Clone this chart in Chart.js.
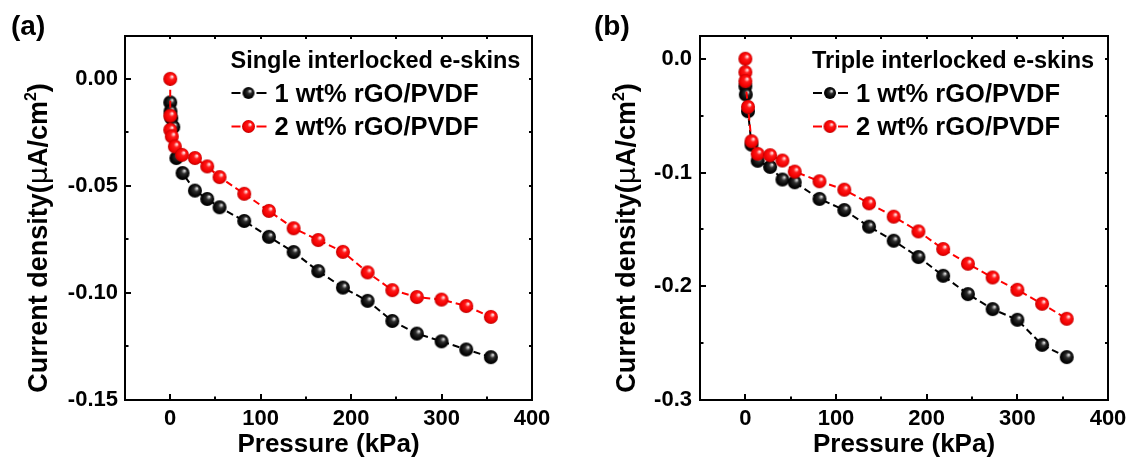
<!DOCTYPE html>
<html>
<head>
<meta charset="utf-8">
<script src="https://cdn.jsdelivr.net/npm/chart.js@4.4.1/dist/chart.umd.min.js"></script>
<style>
  html, body { margin: 0; padding: 0; background: #fff; }
  #wrap { position: relative; width: 1134px; height: 464px; overflow: hidden; }
  #wrap canvas { position: absolute; top: 0; }
  .tag { position: absolute; font: bold 28px "Liberation Sans", Arial, sans-serif; color: #000; line-height: 32px; }
</style>
</head>
<body>
<div id="wrap">
  <canvas id="chartA" width="567" height="464" style="left:0"></canvas>
  <canvas id="chartB" width="567" height="464" style="left:567px"></canvas>
  <div class="tag" style="left:11px;top:10px">(a)</div>
  <div class="tag" style="left:594px;top:10px">(b)</div>
</div>
<script>
// Panel (a): single interlocked e-skins
const pressureA1 = [0, 0.3, 1.2, 3.4, 6.8, 13.6, 27.3, 40.9, 54.5, 81.8, 109.1, 136.4, 163.6, 190.9, 218.2, 245.5, 272.7, 300.0, 327.3, 354.5];
const currentA1  = [-0.0110, -0.0152, -0.0183, -0.0225, -0.0370, -0.0440, -0.0522, -0.0561, -0.0600, -0.0664, -0.0738, -0.0809, -0.0898, -0.0975, -0.1037, -0.1131, -0.1190, -0.1226, -0.1264, -0.1300];
const pressureA2 = [0, 0, 0, 1.7, 5.1, 12.9, 27.3, 40.9, 54.5, 81.8, 109.1, 136.4, 163.6, 190.9, 218.2, 245.5, 272.7, 300.0, 327.3, 354.5];
const currentA2  = [0.0000, -0.0172, -0.0238, -0.0269, -0.0316, -0.0355, -0.0370, -0.0409, -0.0459, -0.0537, -0.0617, -0.0698, -0.0753, -0.0808, -0.0904, -0.0987, -0.1019, -0.1031, -0.1061, -0.1112];

// Panel (b): triple interlocked e-skins
const pressureB1 = [0, 0.5, 2.9, 6.8, 13.6, 27.3, 40.9, 54.5, 81.8, 109.1, 136.4, 163.6, 190.9, 218.2, 245.5, 272.7, 300.0, 327.3, 354.5];
const currentB1  = [-0.0241, -0.0314, -0.0461, -0.0755, -0.0897, -0.0951, -0.1062, -0.1086, -0.1232, -0.1330, -0.1476, -0.1600, -0.1743, -0.1908, -0.2069, -0.2201, -0.2295, -0.2515, -0.2623];
const pressureB2 = [0, 0, 0, 2.9, 6.8, 13.6, 27.3, 40.9, 54.5, 81.8, 109.1, 136.4, 163.6, 190.9, 218.2, 245.5, 272.7, 300.0, 327.3, 354.5];
const currentB2  = [0.0000, -0.0118, -0.0197, -0.0423, -0.0725, -0.0836, -0.0848, -0.0895, -0.0992, -0.1077, -0.1151, -0.1271, -0.1388, -0.1518, -0.1673, -0.1802, -0.1923, -0.2031, -0.2154, -0.2286];

// Axis ticks
const xTicks  = [0, 100, 200, 300, 400];
const xMinor  = [50, 150, 250, 350];
const yTicksA = [-0.15, -0.10, -0.05, 0];
const yMinorA = [-0.125, -0.075, -0.025];
const yTicksB = [-0.3, -0.2, -0.1, 0];
const yMinorB = [-0.25, -0.15, -0.05];

const seriesLabels = ['1 wt% rGO/PVDF', '2 wt% rGO/PVDF'];
const FONT = '"Liberation Sans", Arial, Helvetica, sans-serif';

// Shaded sphere used as the point marker
function sphere(kind, r) {
  const s = Math.ceil(r * 2) + 2;
  const c = document.createElement('canvas');
  c.width = c.height = s;
  const g = c.getContext('2d');
  const m = s / 2;
  const grad = g.createRadialGradient(m + 0.32 * r, m - 0.36 * r, 0, m, m, r);
  if (kind === 'red') {
    grad.addColorStop(0, '#ffffff');
    grad.addColorStop(0.14, '#ffb8b8');
    grad.addColorStop(0.36, '#ff1a1a');
    grad.addColorStop(0.8, '#f20000');
    grad.addColorStop(1, '#b80000');
  } else {
    grad.addColorStop(0, '#ffffff');
    grad.addColorStop(0.12, '#bdbdbd');
    grad.addColorStop(0.36, '#2e2e2e');
    grad.addColorStop(0.75, '#080808');
    grad.addColorStop(1, '#000000');
  }
  g.beginPath();
  g.arc(m, m, r, 0, Math.PI * 2);
  g.fillStyle = grad;
  g.fill();
  return c;
}
const redBall = sphere('red', 7), blackBall = sphere('black', 7);
const redKey = sphere('red', 6.5), blackKey = sphere('black', 6);

const toXY = (xs, ys) => xs.map((x, i) => ({ x, y: ys[i] }));

// Box frame with inward major/minor ticks on all sides
const frame = {
  id: 'frame',
  afterDraw(chart, args, o) {
    const { ctx, chartArea: a, scales: { x, y } } = chart;
    ctx.save();
    ctx.strokeStyle = '#000';
    ctx.lineWidth = 2;
    ctx.strokeRect(a.left, a.top, a.right - a.left, a.bottom - a.top);
    const seg = (x1, y1, x2, y2) => { ctx.beginPath(); ctx.moveTo(x1, y1); ctx.lineTo(x2, y2); ctx.stroke(); };
    o.xMajor.forEach(v => { const p = Math.round(x.getPixelForValue(v)); seg(p, a.bottom, p, a.bottom - 6); seg(p, a.top, p, a.top + 3); });
    o.xMinor.forEach(v => { const p = Math.round(x.getPixelForValue(v)); seg(p, a.bottom, p, a.bottom - 3.5); seg(p, a.top, p, a.top + 3); });
    o.yMajor.forEach(v => { const p = Math.round(y.getPixelForValue(v)); seg(a.left, p, a.left + 6, p); seg(a.right, p, a.right - 3, p); });
    o.yMinor.forEach(v => { const p = Math.round(y.getPixelForValue(v)); seg(a.left, p, a.left + 3.5, p); seg(a.right, p, a.right - 3, p); });
    ctx.restore();
  }
};

// Rotated y-axis title with the Greek mu and superscript
const yTitle = {
  id: 'yTitle',
  afterDraw(chart, args, o) {
    const ctx = chart.ctx;
    const parts = [
      { t: 'Current density(', f: 'bold 27px ' + FONT, dy: 0 },
      { t: 'μ', f: '27px "DejaVu Sans", ' + FONT, dy: 0 },
      { t: 'A/cm', f: 'bold 27px ' + FONT, dy: 0 },
      { t: '2', f: 'bold 16px ' + FONT, dy: -11 },
      { t: ')', f: 'bold 27px ' + FONT, dy: 0 }
    ];
    ctx.save();
    let total = 0;
    parts.forEach(p => { ctx.font = p.f; p.w = ctx.measureText(p.t).width; total += p.w; });
    ctx.translate(o.cx, o.cy);
    ctx.rotate(-Math.PI / 2);
    ctx.fillStyle = '#000';
    ctx.textBaseline = 'alphabetic';
    ctx.textAlign = 'left';
    let xx = -total / 2;
    parts.forEach(p => { ctx.font = p.f; ctx.fillText(p.t, xx, 9.5 + p.dy); xx += p.w; });
    ctx.restore();
  }
};

// Legend: heading plus two dashed-line/marker keys
const keyBox = {
  id: 'keyBox',
  afterDraw(chart, args, o) {
    const ctx = chart.ctx;
    ctx.save();
    ctx.fillStyle = '#000';
    ctx.textBaseline = 'alphabetic';
    ctx.font = 'bold 23.5px ' + FONT;
    ctx.fillText(o.heading, o.x - 1, 68);
    const rows = [
      { y: 93, color: '#000000', img: blackKey, text: seriesLabels[0] },
      { y: 126.5, color: '#ff0000', img: redKey, text: seriesLabels[1] }
    ];
    rows.forEach(r => {
      ctx.strokeStyle = r.color;
      ctx.lineWidth = 2;
      ctx.beginPath();
      ctx.moveTo(o.x, r.y); ctx.lineTo(o.x + 9, r.y);
      ctx.moveTo(o.x + 25, r.y); ctx.lineTo(o.x + 35, r.y);
      ctx.stroke();
      ctx.drawImage(r.img, o.x + 17 - r.img.width / 2, r.y - r.img.height / 2);
      ctx.font = 'bold 25.5px ' + FONT;
      ctx.fillStyle = '#000';
      ctx.fillText(r.text, o.x + 43, r.y + 8.5);
    });
    ctx.restore();
  }
};

function makePanel(id, cfg) {
  const tickFont = { family: FONT, size: 22, weight: 'bold' };
  return new Chart(document.getElementById(id), {
    type: 'scatter',
    data: {
      datasets: [
        {
          label: seriesLabels[1], data: toXY(cfg.p2, cfg.c2), order: 0,
          showLine: true, borderColor: '#ff0000', borderWidth: 2, borderDash: [7, 4],
          pointStyle: redBall, pointRadius: 7, tension: 0
        },
        {
          label: seriesLabels[0], data: toXY(cfg.p1, cfg.c1), order: 1,
          showLine: true, borderColor: '#000000', borderWidth: 2, borderDash: [7, 4],
          pointStyle: blackBall, pointRadius: 7, tension: 0
        }
      ]
    },
    options: {
      responsive: false, animation: false, devicePixelRatio: 1,
      layout: { padding: { left: 0, top: 36, right: cfg.padRight, bottom: 0 } },
      plugins: {
        legend: { display: false }, tooltip: { enabled: false },
        frame: { xMajor: xTicks, xMinor: xMinor, yMajor: cfg.yTicks, yMinor: cfg.yMinor },
        yTitle: { cx: cfg.titleX, cy: 238 },
        keyBox: { x: cfg.keyX, heading: cfg.heading }
      },
      scales: {
        x: {
          type: 'linear', min: -50, max: 400,
          afterBuildTicks: s => { s.ticks = xTicks.map(v => ({ value: v })); },
          afterFit: s => { s.height = 64; s.paddingLeft = 0; s.paddingRight = 0; },
          grid: { display: false, drawTicks: false }, border: { display: false },
          ticks: { font: tickFont, color: '#000', padding: 6, maxRotation: 0, autoSkip: false },
          title: { display: true, text: 'Pressure (kPa)', color: '#000',
                   font: { family: FONT, size: 26, weight: 'bold' }, padding: { top: 0, bottom: 4 } }
        },
        y: {
          type: 'linear', min: cfg.yMin, max: 0.02,
          afterBuildTicks: s => { s.ticks = cfg.yTicks.map(v => ({ value: v })); },
          afterFit: s => { s.width = cfg.yWidth; s.paddingTop = 0; s.paddingBottom = 0; },
          grid: { display: false, drawTicks: false }, border: { display: false },
          ticks: { font: tickFont, color: '#000', padding: cfg.yPad, autoSkip: false,
                   callback: v => v.toFixed(cfg.digits) }
        }
      }
    },
    plugins: [frame, yTitle, keyBox]
  });
}

makePanel('chartA', {
  p1: pressureA1, c1: currentA1, p2: pressureA2, c2: currentA2,
  yMin: -0.15, yTicks: yTicksA, yMinor: yMinorA, digits: 2,
  yWidth: 125, padRight: 35, yPad: 7, titleX: 37, keyX: 231.5,
  heading: 'Single interlocked e-skins'
});
makePanel('chartB', {
  p1: pressureB1, c1: currentB1, p2: pressureB2, c2: currentB2,
  yMin: -0.3, yTicks: yTicksB, yMinor: yMinorB, digits: 1,
  yWidth: 133, padRight: 26, yPad: 8, titleX: 58, keyX: 246,
  heading: 'Triple interlocked e-skins'
});
</script>
</body>
</html>
